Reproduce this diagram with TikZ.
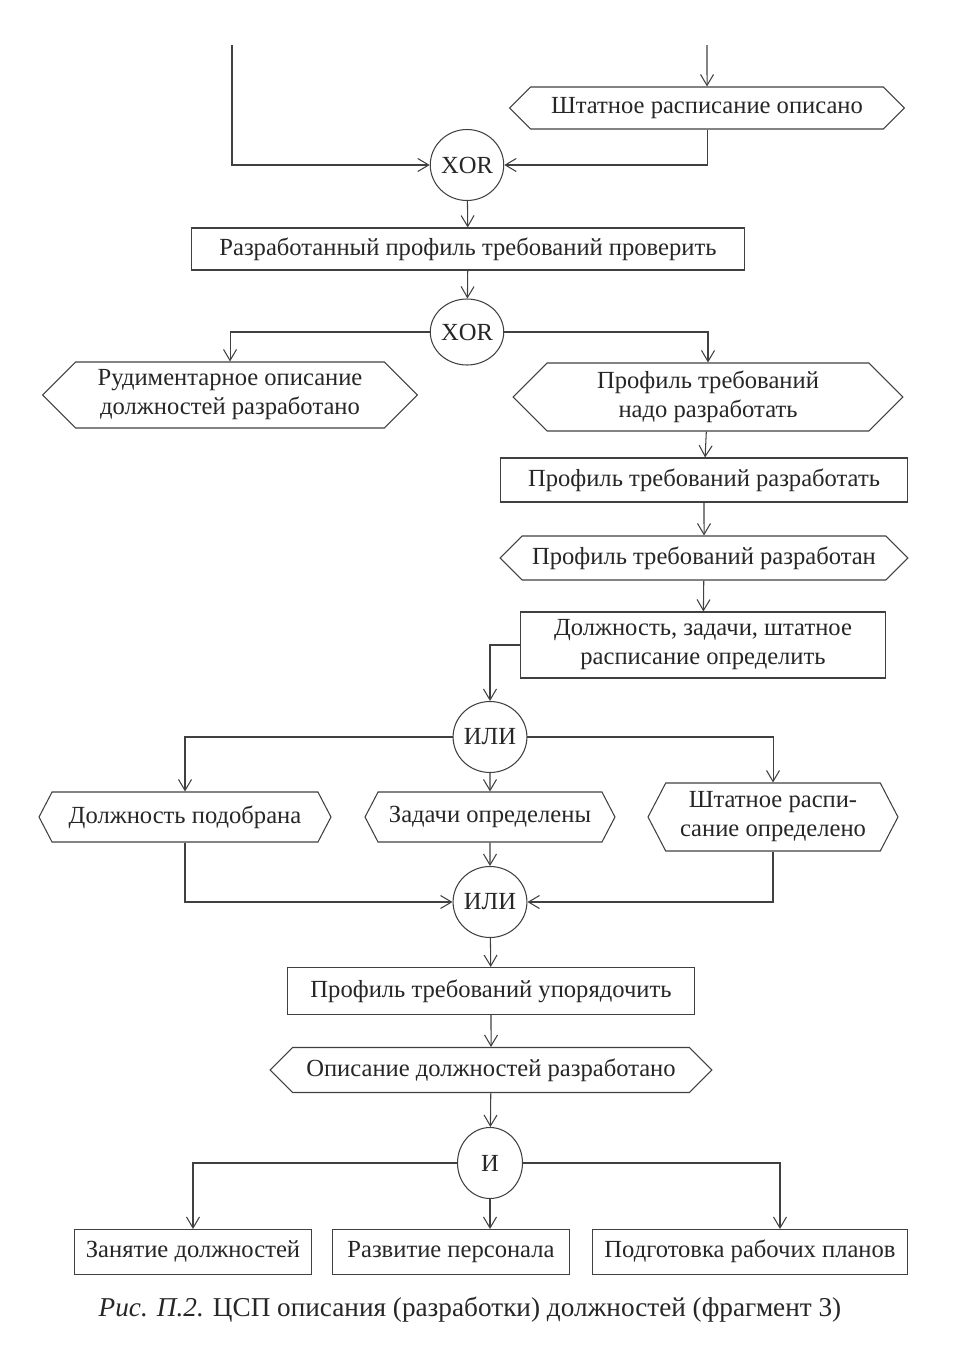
\documentclass[tikz,border=0pt]{standalone}
\usepackage{fontspec}
\setmainfont{Liberation Serif}
\usetikzlibrary{arrows.meta, positioning, shapes.geometric, shapes.symbols}

\begin{document}
\begin{tikzpicture}[x=0.02cm, y=-0.02cm,
  every node/.style={text=black!85, font=\fontsize{14}{16.5}\selectfont},
  func/.style={draw=black!75, line width=0.6pt, align=center, inner sep=2pt},
  event/.style={draw=black!75, line width=0.6pt, align=center, signal, signal to=west and east, inner sep=2pt},
  gate/.style={draw=black!75, line width=0.6pt, ellipse, inner sep=0pt, minimum width=1.3cm, minimum height=1.42cm},
  result/.style={func, minimum height=0.9cm, text height=1.75ex, text depth=0.4ex},
  arrow/.style={-{Straight Barb[length=2.2mm, width=2.6mm]}, draw=black!75, line width=0.6pt}
]
\useasboundingbox (0,0) rectangle (960,1353);

\coordinate (inL) at (232,45);
\coordinate (inR) at (707,45);

\node[event, minimum width=7.9cm, minimum height=0.84cm] (shtop) at (707,108) {Штатное расписание описано};
\node[gate] (xor1) at (467,165) {XOR};
\node[func, minimum width=11.06cm, minimum height=0.84cm] (check) at (468,249) {Разработанный профиль требований проверить};
\node[gate, minimum height=1.32cm] (xor2) at (467,332) {XOR};

\node[event, minimum width=7.5cm, minimum height=1.32cm] (rudim) at (230,395) {Рудиментарное описание\\должностей разработано};
\node[event, minimum width=7.8cm, minimum height=1.36cm] (need) at (708,397) {Профиль требований\\надо разработать};
\node[func, minimum width=8.16cm, minimum height=0.88cm] (develop) at (704,480) {Профиль требований разработать};
\node[event, minimum width=8.16cm, minimum height=0.88cm] (done) at (704,558) {Профиль требований разработан};
\node[func, minimum width=7.3cm, minimum height=1.32cm] (define) at (703,645) {Должность, задачи, штатное\\расписание определить};

\node[gate] (or1) at (490,737) {ИЛИ};
\node[event, signal pointer angle=125, minimum width=5.84cm, minimum height=1.0cm] (post) at (185,817) {Должность подобрана};
\node[event, signal pointer angle=125, minimum width=5.0cm, minimum height=1.0cm] (tasks) at (490,817) {Задачи определены};
\node[event, signal pointer angle=125, minimum width=5.0cm, minimum height=1.36cm] (staff) at (773,817) {Штатное распи-\\сание определено};
\node[gate] (or2) at (490,902) {ИЛИ};

\node[func, minimum width=8.16cm, minimum height=0.94cm] (order) at (491,991) {Профиль требований упорядочить};
\node[event, minimum width=8.84cm, minimum height=0.9cm] (descr) at (491,1070) {Описание должностей разработано};
\node[gate] (and) at (490,1163) {И};

\node[result, minimum width=4.74cm] (occupy) at (193,1252) {Занятие должностей};
\node[result, minimum width=4.74cm] (growth) at (451,1252) {Развитие персонала};
\node[result, minimum width=6.3cm] (plans) at (750,1252) {Подготовка рабочих планов};

\node[font=\fontsize{15.5}{18}\selectfont] (caption) at (470,1310) {\textit{Рис. П.2.} ЦСП описания (разработки) должностей (фрагмент 3)};

\draw[arrow] (inL) |- (xor1);
\draw[arrow] (inR) -- (shtop);
\draw[arrow] (shtop) |- (xor1);
\draw[arrow] (xor1) -- (check);
\draw[arrow] (check) -- (xor2);
\draw[arrow] (xor2) -| (rudim);
\draw[arrow] (xor2) -| (need);
\draw[arrow] (need) -- (develop);
\draw[arrow] (develop) -- (done);
\draw[arrow] (done) -- (define);
\draw[arrow] (define.west) -| (or1);
\draw[arrow] (or1) -| (post);
\draw[arrow] (or1) -- (tasks);
\draw[arrow] (or1) -| (staff);
\draw[arrow] (post) |- (or2);
\draw[arrow] (tasks) -- (or2);
\draw[arrow] (staff) |- (or2);
\draw[arrow] (or2) -- (order);
\draw[arrow] (order) -- (descr);
\draw[arrow] (descr) -- (and);
\draw[arrow] (and) -| (occupy);
\draw[arrow] (and) -- (and |- growth.north);
\draw[arrow] (and) -| ([xshift=0.6cm]plans.north);
\end{tikzpicture}
\end{document}
